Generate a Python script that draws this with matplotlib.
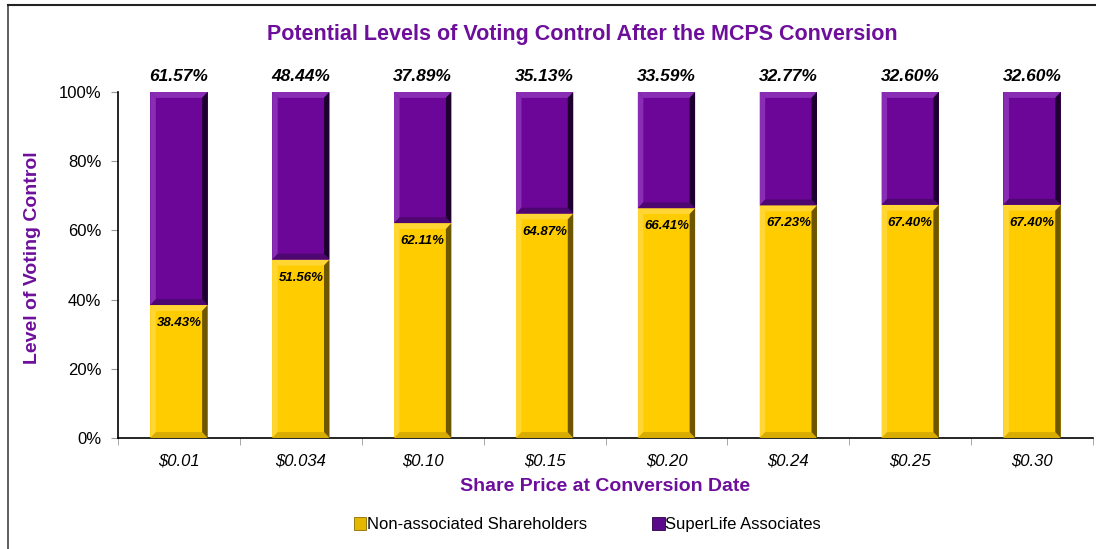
import matplotlib.pyplot as plt
from matplotlib.patches import Polygon, Patch
from matplotlib.lines import Line2D
from matplotlib.ticker import FixedLocator, PercentFormatter

plt.rcParams['font.family'] = ['Liberation Sans', 'DejaVu Sans']

prices = ['$0.01', '$0.034', '$0.10', '$0.15', '$0.20', '$0.24', '$0.25', '$0.30']
non_assoc = [38.43, 51.56, 62.11, 64.87, 66.41, 67.23, 67.40, 67.40]
superlife = [61.57, 48.44, 37.89, 35.13, 33.59, 32.77, 32.60, 32.60]

GOLD = '#FFCC00'
PURPLE = '#6C0698'
TITLE_PURPLE = '#6E0F9C'

fig = plt.figure(figsize=(10.96, 5.49), dpi=100)
ax = fig.add_axes([0.1077, 0.2022, 0.8896, 0.6302])

x = list(range(len(prices)))
w = 0.47
bars_g = ax.bar(x, non_assoc, width=w, color=GOLD, zorder=2)
bars_p = ax.bar(x, superlife, width=w, bottom=non_assoc, color=PURPLE, zorder=2)


def bevel(bar, light, dark, darker, dx=0.045, dy=1.7):
    x0, y0 = bar.get_x(), bar.get_y()
    x1, y1 = x0 + bar.get_width(), y0 + bar.get_height()
    faces = [
        ([(x0, y1), (x1, y1), (x1 - dx, y1 - dy), (x0 + dx, y1 - dy)], light),
        ([(x0, y0), (x0, y1), (x0 + dx, y1 - dy), (x0 + dx, y0 + dy)], light),
        ([(x0, y0), (x1, y0), (x1 - dx, y0 + dy), (x0 + dx, y0 + dy)], dark),
        ([(x1, y0), (x1, y1), (x1 - dx, y1 - dy), (x1 - dx, y0 + dy)], darker),
    ]
    for pts, c in faces:
        ax.add_patch(Polygon(pts, closed=True, facecolor=c, edgecolor='none', zorder=3))


for b in bars_g:
    bevel(b, '#FFD633', '#D9AC00', '#6E5600')
for b in bars_p:
    bevel(b, '#8A2DB5', '#4E0670', '#1E0030')

# value labels
for xi, g, p in zip(x, non_assoc, superlife):
    ax.annotate(f'{p:.2f}%', xy=(xi, 100), xytext=(0, 6), textcoords='offset points',
                ha='center', va='bottom', fontsize=12.5, fontweight='bold', style='italic',
                annotation_clip=False)
    ax.annotate(f'{g:.2f}%', xy=(xi, g), xytext=(0, -13), textcoords='offset points',
                ha='center', va='center', fontsize=9.5, fontweight='bold', style='italic',
                zorder=5)

ax.set_xlim(-0.5, len(prices) - 0.5)
ax.set_ylim(0, 100)
ax.set_yticks([0, 20, 40, 60, 80, 100])
ax.yaxis.set_major_formatter(PercentFormatter(decimals=0))
ax.set_xticks(x)
ax.set_xticklabels(prices, style='italic', fontsize=12)
ax.xaxis.set_minor_locator(FixedLocator([i + 0.5 for i in range(-1, len(prices))]))
ax.tick_params(axis='x', which='major', length=0, pad=11)
ax.tick_params(axis='x', which='minor', length=5, color='#999999', direction='out')
ax.tick_params(axis='y', length=5, color='#999999', direction='out', labelsize=12, pad=7)

for s in ['top', 'right']:
    ax.spines[s].set_visible(False)
for s in ['left', 'bottom']:
    ax.spines[s].set_color('black')
    ax.spines[s].set_linewidth(1.2)

fig.text(0.531, 0.938, 'Potential Levels of Voting Control After the MCPS Conversion',
         ha='center', va='center', fontsize=15.5, fontweight='bold', color=TITLE_PURPLE)
fig.text(0.552, 0.113, 'Share Price at Conversion Date', ha='center', va='center',
         fontsize=14, fontweight='bold', color=TITLE_PURPLE)
fig.text(0.030, 0.53, 'Level of Voting Control', ha='center', va='center', rotation=90,
         fontsize=14, fontweight='bold', color=TITLE_PURPLE)

handles = [Patch(facecolor='#E5B800', edgecolor='#8C6E00', linewidth=0.6),
           Patch(facecolor='#5A0A88', edgecolor='#2A0045', linewidth=0.6)]
fig.legend(handles, ['Non-associated Shareholders', 'SuperLife Associates'],
           loc='center', bbox_to_anchor=(0.536, 0.044), ncol=2, frameon=False,
           fontsize=12, handlelength=0.75, handleheight=0.75, handletextpad=0.05,
           columnspacing=3.9)

# chart border
fig.add_artist(Line2D([8 / 1096, 8 / 1096], [0, 1 - 5 / 549], color='#444444', linewidth=1.2))
fig.add_artist(Line2D([8 / 1096, 1], [1 - 5 / 549, 1 - 5 / 549], color='#222222', linewidth=1.5))

fig.savefig('out.png', dpi=100)
